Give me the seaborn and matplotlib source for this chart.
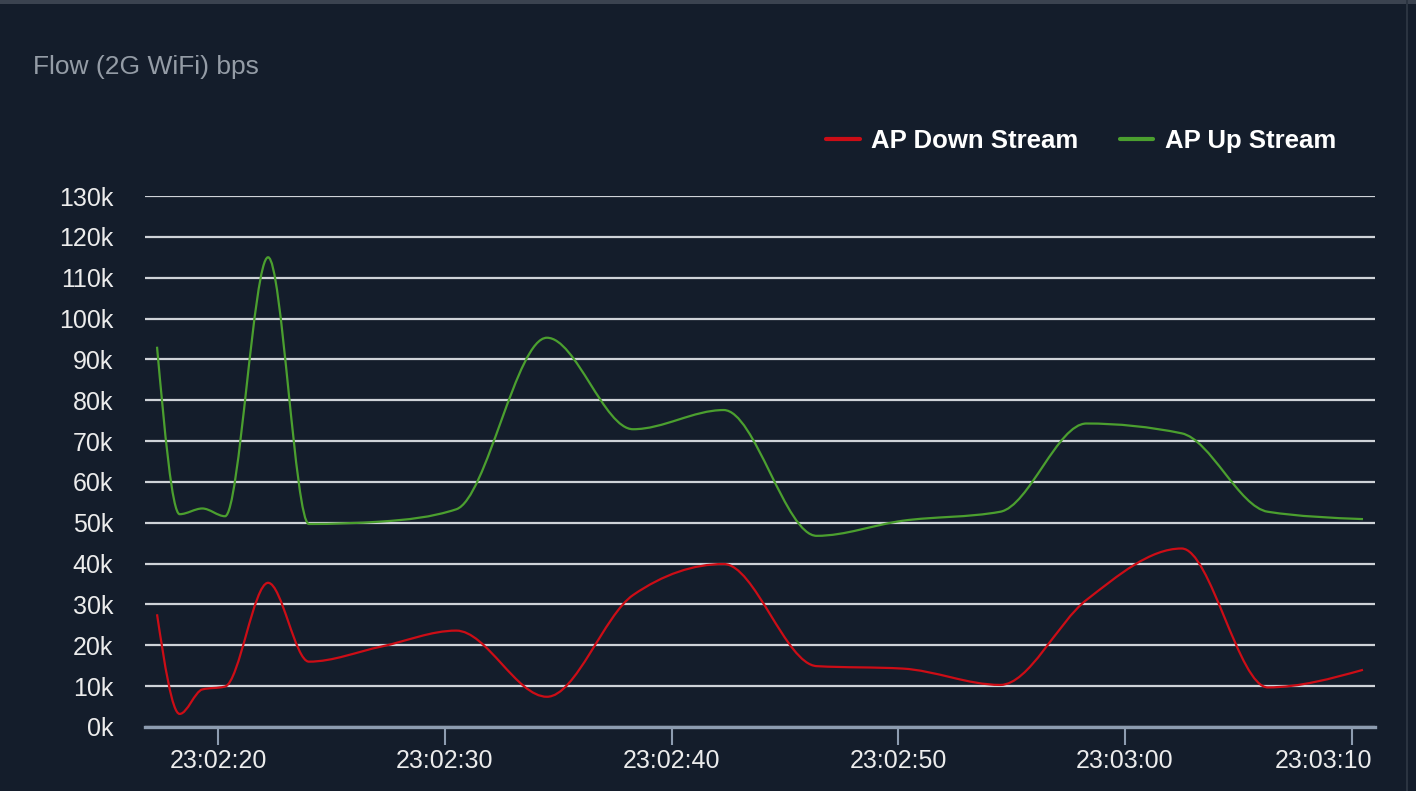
import numpy as np
import pandas as pd
import matplotlib
matplotlib.use("Agg")
import matplotlib.pyplot as plt
import matplotlib.dates as mdates
import matplotlib.transforms as mtransforms
from matplotlib.path import Path
from matplotlib.patches import PathPatch, Rectangle
from matplotlib.ticker import FuncFormatter, MultipleLocator
import seaborn as sns

# данные (время отсчёта и поток в bps)
times = ["23:02:17.3", "23:02:18.3", "23:02:19.3", "23:02:20.3", "23:02:22.2",
         "23:02:24.0", "23:02:27.2", "23:02:30.5", "23:02:34.5", "23:02:38.3",
         "23:02:42.3", "23:02:46.4", "23:02:50.2", "23:02:54.5", "23:02:58.3",
         "23:03:02.5", "23:03:06.3", "23:03:10.5"]
down_stream = [27600, 3200, 9200, 9900, 35300, 16000, 19700, 23600, 7400,
               32300, 39900, 14900, 14300, 10300, 31100, 43700, 9700, 14000]
up_stream = [93100, 52100, 53500, 51600, 115000, 49700, 50300, 53300, 95300,
             72900, 77600, 46800, 50500, 52700, 74300, 71900, 52700, 50900]
series_names = ["AP Down Stream", "AP Up Stream"]
series_colors = ["#cc0d16", "#4b9f2f"]
title_text = "Flow (2G WiFi) bps"

BG = "#141d2b"


# монотонная кривая Безье через точки (как smooth в веб-графиках)
def monotone_path(xy):
    x, y = xy[:, 0], xy[:, 1]
    h = np.diff(x)
    s = np.diff(y) / h
    m = np.zeros_like(y)
    for i in range(1, len(x) - 1):
        if s[i - 1] * s[i] > 0:
            p = (s[i - 1] * h[i] + s[i] * h[i - 1]) / (h[i - 1] + h[i])
            m[i] = np.sign(s[i]) * min(2 * abs(s[i - 1]), 2 * abs(s[i]), abs(p))
    m[0] = (3 * s[0] - m[1]) / 2
    m[-1] = (3 * s[-1] - m[-2]) / 2
    verts = [(x[0], y[0])]
    codes = [Path.MOVETO]
    for i in range(len(x) - 1):
        d = h[i] / 3
        verts += [(x[i] + d, y[i] + m[i] * d),
                  (x[i + 1] - d, y[i + 1] - m[i + 1] * d),
                  (x[i + 1], y[i + 1])]
        codes += [Path.CURVE4] * 3
    return Path(verts, codes)


t = pd.to_datetime(["2024-01-01 " + s for s in times])
df = pd.concat([
    pd.DataFrame({"time": t, "value": down_stream, "series": series_names[0]}),
    pd.DataFrame({"time": t, "value": up_stream, "series": series_names[1]}),
])

sns.set_theme(style="dark")
plt.rcParams["font.family"] = ["Liberation Sans", "DejaVu Sans"]

fig = plt.figure(figsize=(14.16, 7.91), dpi=100)
fig.patch.set_facecolor(BG)
ax = fig.add_axes([145 / 1416, 1 - 727 / 791, 1230 / 1416, 531 / 791])
ax.set_facecolor(BG)

sns.lineplot(data=df, x="time", y="value", hue="series", hue_order=series_names,
             palette=series_colors, linewidth=1.5, errorbar=None, ax=ax)

# заменяем ломаные на сглаженные кривые
for line in list(ax.lines):
    xy = line.get_xydata()
    if len(xy) < 3:
        continue
    ax.add_patch(PathPatch(monotone_path(xy), facecolor="none",
                           edgecolor=line.get_color(), lw=1.6, zorder=3))
    line.set_visible(False)

ax.set_ylim(0, 130000)
ax.set_xlim(t[0] - pd.Timedelta(seconds=0.53), t[-1] + pd.Timedelta(seconds=0.53))
ax.yaxis.set_major_locator(MultipleLocator(10000))
ax.yaxis.set_major_formatter(FuncFormatter(lambda v, p: f"{int(round(v / 1000))}k"))
ax.xaxis.set_major_locator(mdates.SecondLocator(bysecond=[0, 10, 20, 30, 40, 50]))
ax.xaxis.set_major_formatter(mdates.DateFormatter("%H:%M:%S"))

ax.set_xlabel("")
ax.set_ylabel("")
ax.grid(False)
ax.yaxis.grid(True, color="#cfd3d8", lw=1.6)
ax.set_axisbelow(True)
for side in ["top", "right", "left"]:
    ax.spines[side].set_visible(False)
ax.spines["bottom"].set_color("#8d9cb0")
ax.spines["bottom"].set_linewidth(2.4)
ax.spines["bottom"].set_zorder(4)
ax.tick_params(axis="x", length=13, width=1.5, color="#8d9cb0", pad=3,
               labelsize=18, labelcolor="#ececec", bottom=True)
ax.tick_params(axis="y", length=0, pad=23, labelsize=18, labelcolor="#ececec")

# последняя подпись оси X сдвинута внутрь, как в оригинале
n_ticks = len(ax.get_xticks())
last_label = ax.xaxis.get_major_ticks()[n_ticks - 1].label1
last_label.set_transform(last_label.get_transform() +
                         mtransforms.ScaledTranslation(-0.28, 0, fig.dpi_scale_trans))

sns.move_legend(ax, "center right", bbox_to_anchor=(1336 / 1416, 1 - 141 / 791),
                bbox_transform=fig.transFigure, ncol=2, frameon=False, title=None,
                handlelength=1.3, handletextpad=0.45, columnspacing=1.6,
                borderpad=0, borderaxespad=0,
                prop={"weight": "bold", "size": 18.5})
leg = ax.get_legend()
for txt in leg.get_texts():
    txt.set_color("white")
for h in leg.legend_handles:
    h.set_linewidth(3)

fig.text(33 / 1416, 1 - 74 / 791, title_text, color="#949ca6", fontsize=19,
         va="baseline", ha="left")

# рамка панели
fig.patches.append(Rectangle((0, 1 - 4 / 791), 1, 4 / 791, transform=fig.transFigure,
                             facecolor="#3b4350", edgecolor="none"))
fig.patches.append(Rectangle((1406 / 1416, 0), 2 / 1416, 1, transform=fig.transFigure,
                             facecolor="#2b3441", edgecolor="none"))

fig.savefig("out.png", dpi=100, facecolor=BG)
